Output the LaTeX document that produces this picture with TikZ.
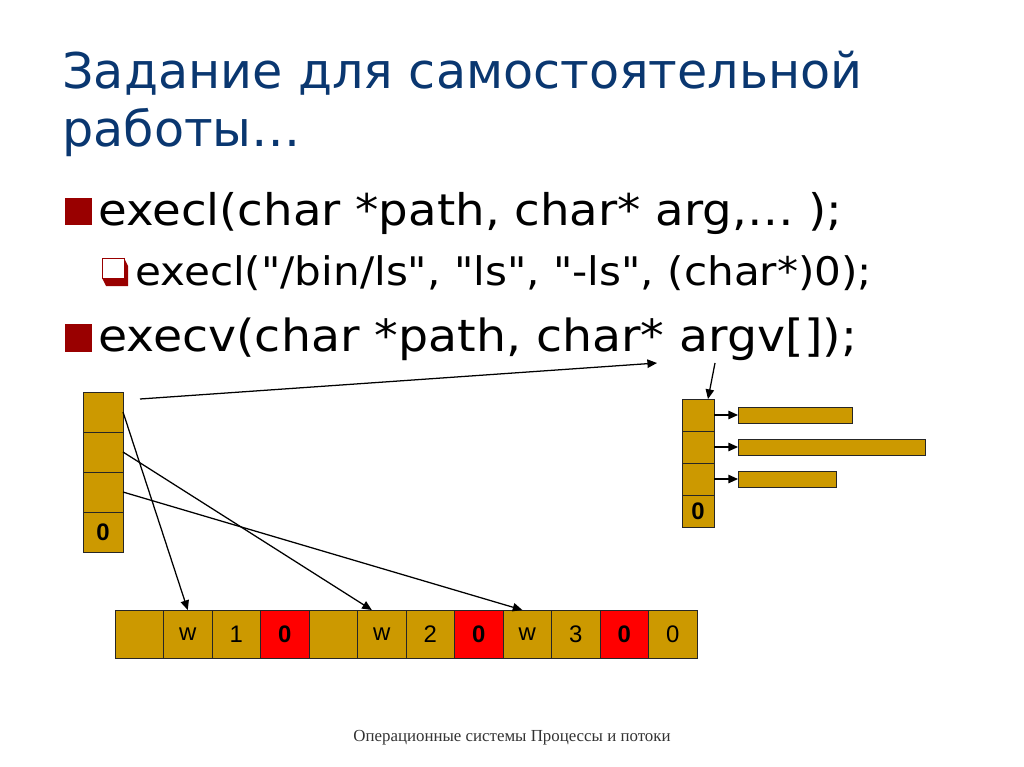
\documentclass[tikz,border=0pt]{standalone}
\usepackage{fontspec}
\setmainfont{DejaVu Sans}[Ligatures=ResetAll]
\newfontfamily\codefont{DejaVu Sans}[Ligatures=ResetAll,FakeStretch=1.07]
\newfontfamily\cellfont{Liberation Sans}
\newfontfamily\footfont{Liberation Serif}
\usetikzlibrary{positioning,arrows.meta,calc}
\definecolor{gold}{HTML}{CC9900}
\definecolor{zero}{HTML}{FF0000}
\definecolor{titleblue}{HTML}{0A3770}
\definecolor{bullet}{HTML}{990000}
\newcommand{\dq}{\char34{}}

\begin{document}
\begin{tikzpicture}[x=0.025cm,y=-0.025cm,
    cell/.style={draw=black!85,fill=gold,line width=0.6pt,inner sep=0pt,outer sep=0pt,
                 font=\cellfont\fontsize{17}{17}\selectfont},
    argcell/.style={cell,minimum width=1cm,minimum height=1cm},
    vcell/.style={cell,minimum width=0.8cm,minimum height=0.8cm},
    buf/.style={cell,minimum width=1.2125cm,minimum height=1.2cm},
    nul/.style={buf,fill=zero,font=\cellfont\bfseries\fontsize{17}{17}\selectfont},
    zerotxt/.style={font=\cellfont\bfseries\fontsize{17}{17}\selectfont},
    bar/.style={cell,minimum height=0.4cm},
    ptr/.style={-{Triangle[length=2.4mm,width=2.1mm]},line width=0.9pt},
    txt/.style={anchor=base west,inner sep=0pt},
    bulletbox/.style={fill=bullet,minimum size=0.675cm,inner sep=0pt}
  ]
  \useasboundingbox (0,0) rectangle (1024,767);

  % title
  \node[txt,text=titleblue,font=\fontsize{35}{40}\selectfont] (head1) at (62,89) {Задание для самостоятельной};
  \node[txt,text=titleblue,font=\fontsize{35}{40}\selectfont] (head2) at (62,147) {работы…};

  % bullets
  \node[bulletbox] (m1) at (78.5,211.5) {};
  \node[txt,font=\codefont\fontsize{31}{34}\selectfont] (execl) at (98,226) {execl(char *path, char* arg,… );};
  \fill[bullet] (102,278) -- (106,286) -- (128,286) -- (128,266) -- (124,258) -- cycle;
  \draw[bullet,fill=white,line width=0.6pt] (102.5,258.5) rectangle (124,278);
  \node[txt,font=\codefont\fontsize{28}{30}\selectfont] (call) at (135,285) {execl(\dq/bin/ls\dq, \dq ls\dq, \dq-ls\dq, (char*)0);};
  \node[bulletbox] (m2) at (78.5,338) {};
  \node[txt,font=\codefont\fontsize{31.5}{34}\selectfont] (execv) at (98,351) {execv(char *path, char* argv[]);};

  % argument vector, left
  \node[argcell] (a1) at (103,412) {};
  \node[argcell,below=0pt of a1] (a2) {};
  \node[argcell,below=0pt of a2] (a3) {};
  \node[argcell,below=0pt of a3,zerotxt] (a4) {0};

  % string buffer
  \node[buf] (c1) at (139.25,634) {};
  \node[buf,right=0pt of c1] (c2) {w};
  \node[buf,right=0pt of c2] (c3) {1};
  \node[nul,right=0pt of c3] (c4) {0};
  \node[buf,right=0pt of c4] (c5) {};
  \node[buf,right=0pt of c5] (c6) {w};
  \node[buf,right=0pt of c6] (c7) {2};
  \node[nul,right=0pt of c7] (c8) {0};
  \node[buf,right=0pt of c8] (c9) {w};
  \node[buf,right=0pt of c9] (c10) {3};
  \node[nul,right=0pt of c10] (c11) {0};
  \node[buf,right=0pt of c11] (c12) {0};

  % argv, right
  \node[vcell] (v1) at (698,415) {};
  \node[vcell,below=0pt of v1] (v2) {};
  \node[vcell,below=0pt of v2] (v3) {};
  \node[vcell,below=0pt of v3,zerotxt] (v4) {0};

  \node[bar,minimum width=2.85cm,right=0.6cm of v1] (b1) {};
  \node[bar,minimum width=4.675cm,right=0.6cm of v2] (b2) {};
  \node[bar,minimum width=2.45cm,right=0.6cm of v3] (b3) {};

  % pointers
  \draw[ptr] (a1.east) -- (c2.north);
  \draw[ptr] (a2.east) -- ($(c6.north)+(-10,0)$);
  \draw[ptr] (a3.east) -- ($(c9.north)+(-5,0)$);

  \coordinate (from) at (140,399);
  \coordinate (star) at (657,363);
  \draw[ptr] (from) -- (star);
  \coordinate (argv) at (715,363);
  \draw[ptr] (argv) -- ($(v1.north)+(10,0)$);

  \draw[ptr] (v1.east) -- (b1.west);
  \draw[ptr] (v2.east) -- (b2.west);
  \draw[ptr] (v3.east) -- (b3.west);

  % footer
  \node[font=\footfont\fontsize{12}{14}\selectfont,text=black!80] (foot) at (512,738)
    {Операционные системы Процессы и потоки};
\end{tikzpicture}
\end{document}
